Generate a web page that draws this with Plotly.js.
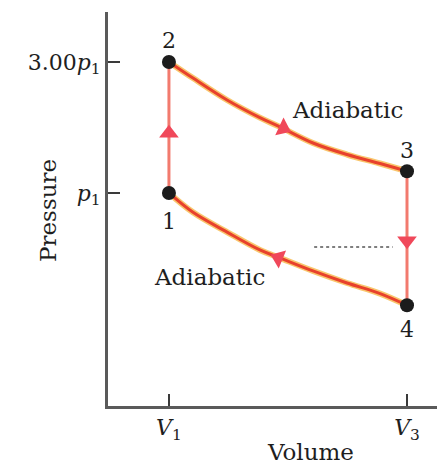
<!DOCTYPE html>
<html>
<head>
<meta charset="utf-8">
<script src="https://cdn.plot.ly/plotly-3.0.1.min.js"></script>
<style>
  html, body { margin: 0; padding: 0; background: #ffffff; }
  #chart { width: 445px; height: 469px; }
</style>
</head>
<body>
<div id="chart"></div>
<script>
// ---- Data (volume in units of V1, pressure in units of p1) ----
const stateLabels = ['1', '2', '3', '4'];
const stateV = [1.00, 1.00, 2.00, 2.00];
const stateP = [1.00, 3.00, 1.20, 0.39];

// Adiabatic 2 -> 3 (expansion)
const vUpper = [1.000, 1.101, 1.244, 1.382, 1.466, 1.605, 1.748, 1.887, 2.000];
const pUpper = [3.00, 2.62, 2.18, 1.88, 1.74, 1.52, 1.38, 1.28, 1.20];
// Adiabatic 4 -> 1 (compression)
const vLower = [1.000, 1.101, 1.244, 1.382, 1.466, 1.605, 1.748, 1.887, 2.000];
const pLower = [1.00, 0.85, 0.72, 0.62, 0.58, 0.52, 0.47, 0.43, 0.39];

// Constant-volume legs
const leg12V = [1.00, 1.00];
const leg12P = [1.00, 3.00];
const leg34V = [2.00, 2.00];
const leg34P = [1.20, 0.39];

// Direction arrows on the cycle
const arrowV = [1.00, 1.48, 2.00, 1.46];
const arrowP = [1.65, 1.72, 0.67, 0.58];
const arrowSymbol = ['triangle-up', 'triangle-right', 'triangle-down', 'triangle-left'];
const arrowAngle = [0, 25, 0, 22];

// Short dotted mark from the scan
const dashV = [1.61, 1.94];
const dashP = [0.636, 0.636];

// Ticks
const xTickVals = [1, 2];
const xTickText = ['<i>V</i><sub>1</sub>', '<i>V</i><sub>3</sub>'];
const yTickVals = [1, 3];
const yTickText = ['<i>p</i><sub>1</sub>', '3.00<i>p</i><sub>1</sub>'];

const serif = 'DejaVu Serif, Liberation Serif, serif';
const ink = '#1e1e1e';
const red = '#e8412c';
const halo = '#f8b848';
const pink = '#f27a6e';

const traces = [
  {x: vUpper, y: pUpper, mode: 'lines', line: {color: halo, width: 6, shape: 'spline'}, opacity: 0.8, hoverinfo: 'skip'},
  {x: vLower, y: pLower, mode: 'lines', line: {color: halo, width: 6, shape: 'spline'}, opacity: 0.8, hoverinfo: 'skip'},
  {x: vUpper, y: pUpper, mode: 'lines', line: {color: red, width: 3, shape: 'spline'}, name: 'Adiabatic 2→3'},
  {x: vLower, y: pLower, mode: 'lines', line: {color: red, width: 3, shape: 'spline'}, name: 'Adiabatic 4→1'},
  {x: leg12V, y: leg12P, mode: 'lines', line: {color: pink, width: 3}, name: '1→2'},
  {x: leg34V, y: leg34P, mode: 'lines', line: {color: pink, width: 3}, name: '3→4'},
  {x: dashV, y: dashP, mode: 'lines', line: {color: '#555555', width: 1.5, dash: 'dot'}, hoverinfo: 'skip'},
  {x: arrowV, y: arrowP, mode: 'markers', hoverinfo: 'skip',
   marker: {symbol: arrowSymbol, angle: arrowAngle, size: 17, color: '#f0485a', line: {width: 0}}},
  {x: stateV, y: stateP, mode: 'markers', text: stateLabels,
   marker: {size: 14, color: '#1c1c1c', line: {width: 0}}}
];

const annotations = [];
const labelShift = [-29, 21, 21, -24];
for (let i = 0; i < stateLabels.length; i++) {
  annotations.push({
    x: stateV[i], y: Math.log10(stateP[i]), xref: 'x', yref: 'y',
    text: stateLabels[i], showarrow: false, yshift: labelShift[i],
    font: {family: serif, size: 22, color: ink}
  });
}
annotations.push({x: 1.752, y: 0.302, xref: 'x', yref: 'y', text: 'Adiabatic', showarrow: false,
  font: {family: serif, size: 23, color: ink}});
annotations.push({x: 1.172, y: -0.306, xref: 'x', yref: 'y', text: 'Adiabatic', showarrow: false,
  font: {family: serif, size: 23, color: ink}});
// Axis titles
annotations.push({x: 0, y: 0, xref: 'paper', yref: 'paper', xanchor: 'center', yanchor: 'middle',
  xshift: 202, yshift: -46, text: 'Volume', showarrow: false,
  font: {family: serif, size: 23, color: ink}});
annotations.push({x: 0, y: 0.5, xref: 'paper', yref: 'paper', xanchor: 'center', yanchor: 'middle',
  xshift: -60, yshift: -2, textangle: -90, text: 'Pressure', showarrow: false,
  font: {family: serif, size: 23, color: ink}});

const layout = {
  width: 445, height: 469,
  margin: {l: 108, r: 8, t: 12, b: 63},
  paper_bgcolor: '#ffffff', plot_bgcolor: '#ffffff',
  showlegend: false,
  xaxis: {
    range: [0.744, 2.126], showgrid: false, zeroline: false,
    showline: true, linecolor: '#5a5a5a', linewidth: 3,
    ticks: 'inside', ticklen: 12, tickwidth: 2, tickcolor: '#3a3a3a',
    tickvals: xTickVals, ticktext: xTickText,
    tickfont: {family: serif, size: 22, color: ink}
  },
  yaxis: {
    type: 'log', range: [-0.776, 0.659], showgrid: false, zeroline: false,
    showline: true, linecolor: '#5a5a5a', linewidth: 3,
    ticks: 'inside', ticklen: 12, tickwidth: 2, tickcolor: '#3a3a3a',
    tickvals: yTickVals, ticktext: yTickText,
    tickfont: {family: serif, size: 22, color: ink}
  },
  annotations: annotations
};

Plotly.newPlot('chart', traces, layout, {staticPlot: true, displayModeBar: false});
</script>
</body>
</html>
